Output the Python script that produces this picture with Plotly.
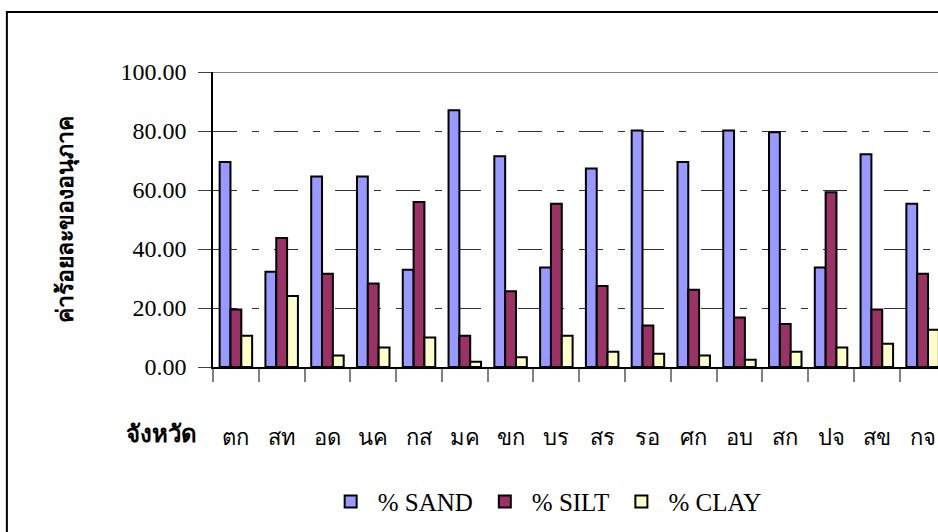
import plotly.graph_objects as go

categories = ["ตก", "สท", "อด", "นค", "กส", "มค", "ขก", "บร", "สร", "รอ", "ศก", "อบ", "สก", "ปจ", "สข", "กจ"]
sand = [69.5, 32.3, 64.6, 64.6, 33.0, 87.0, 71.4, 33.7, 67.3, 80.2, 69.5, 80.2, 79.6, 33.7, 72.1, 55.3]
silt = [19.5, 43.7, 31.6, 28.3, 55.9, 10.6, 25.7, 55.3, 27.5, 14.1, 26.2, 16.8, 14.6, 59.2, 19.5, 31.6]
clay = [10.6, 24.1, 3.9, 6.6, 10.0, 1.8, 3.3, 10.6, 5.2, 4.5, 3.9, 2.5, 5.2, 6.6, 7.9, 12.6]
y_ticks = [0, 20, 40, 60, 80, 100]
y_ticktext = ["0.00", "20.00", "40.00", "60.00", "80.00", "100.00"]

series = [("% SAND", sand, "#9999FF"), ("% SILT", silt, "#993366"), ("% CLAY", clay, "#FFFFCC")]

FONT = "Liberation Serif, Times New Roman, serif"

fig = go.Figure()
for name, vals, col in series:
    fig.add_trace(go.Bar(x=categories, y=vals, name=name,
                         marker=dict(color=col, line=dict(color="black", width=2))))

W, H = 938, 532
L, R, T, B = 212.7, 0, 71.5, 165
plot_w = W - L - R
plot_h = H - T - B
cat_w = 45.8

fig.update_layout(
    width=W, height=H,
    margin=dict(l=L, r=R, t=T, b=B, pad=0),
    paper_bgcolor="white", plot_bgcolor="white",
    barmode="group", bargap=0.29, bargroupgap=0,
    font=dict(family=FONT, size=22, color="black"),
    showlegend=True,
    legend=dict(orientation="h", x=(545 - L) / plot_w, xanchor="center",
                y=(T + plot_h - 502) / plot_h, yanchor="middle",
                font=dict(family=FONT, size=25), bgcolor="rgba(0,0,0,0)",
                itemwidth=44, tracegroupgap=0),
)

fig.update_xaxes(
    type="category", range=[-0.5, -0.5 + plot_w / cat_w],
    showline=True, linecolor="black", linewidth=2,
    ticks="outside", ticklen=13, tickcolor="#808080", tickwidth=1.5,
    tickson="boundaries", ticklabelstandoff=50,
    tickfont=dict(family=FONT, size=22),
    showgrid=False, zeroline=False,
)
fig.update_yaxes(
    range=[0, 100], tickvals=y_ticks, ticktext=y_ticktext,
    showline=True, linecolor="black", linewidth=1.5,
    ticks="outside", ticklen=13, tickcolor="#404040", tickwidth=1.2,
    ticklabelstandoff=7,
    tickfont=dict(family=FONT, size=24),
    showgrid=True, gridcolor="#303030", gridwidth=1.2,
    griddash="24px,15px,7px,15px",
    zeroline=False,
)

# solid top border of plot area at 100
fig.add_shape(type="line", xref="paper", yref="y", x0=0, x1=1, y0=100, y1=100,
              line=dict(color="#808080", width=2))
# outer chart border (cropped on right and bottom)
fig.add_shape(type="rect", xref="paper", yref="paper",
              x0=(6.5 - L) / plot_w, x1=1.05,
              y0=-0.7, y1=(T + plot_h - 11.5) / plot_h,
              line=dict(color="black", width=2), fillcolor="rgba(0,0,0,0)", layer="below")

fig.add_annotation(text="<b>ค่าร้อยละของอนุภาค</b>", textangle=-90,
                   xref="paper", yref="paper", x=(66 - L) / plot_w, y=0.5,
                   xanchor="center", yanchor="middle", showarrow=False,
                   font=dict(family=FONT, size=23))
fig.add_annotation(text="<b>จังหวัด</b>",
                   xref="paper", yref="paper", x=(161 - L) / plot_w, y=(T + plot_h - 434) / plot_h,
                   xanchor="center", yanchor="middle", showarrow=False,
                   font=dict(family=FONT, size=24))

fig.write_html("out.html")
